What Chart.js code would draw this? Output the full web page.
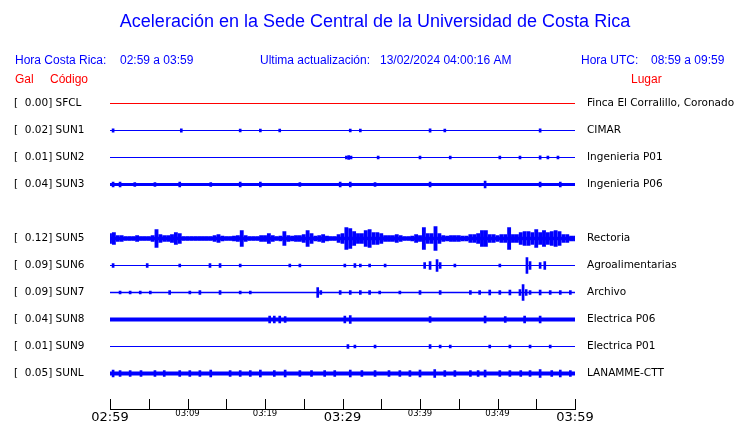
<!DOCTYPE html>
<html>
<head>
<meta charset="utf-8">
<script src="https://cdn.jsdelivr.net/npm/chart.js@4.4.1/dist/chart.umd.min.js"></script>
<style>
  html, body { margin: 0; padding: 0; background: #fff; }
  #wrap { width: 740px; height: 423px; }
</style>
</head>
<body>
<div id="wrap"><canvas id="sismo" width="740" height="423"></canvas></div>
<script>
'use strict';
// one entry per row, the SUN4 row is empty in the picture
const codes = ['SFCL', 'SUN1', 'SUN2', 'SUN3', null, 'SUN5', 'SUN6', 'SUN7', 'SUN8', 'SUN9', 'SUNL'];
const places = ['Finca El Corralillo, Coronado', 'CIMAR', 'Ingenieria P01', 'Ingenieria P06', null,
  'Rectoria', 'Agroalimentarias', 'Archivo', 'Electrica P06', 'Electrica P01', 'LANAMME-CTT'];
const pga = [0.00, 0.02, 0.01, 0.04, null, 0.12, 0.09, 0.09, 0.04, 0.01, 0.05];
// half height of the background noise band of each trace
const noise = [0.5, 0.5, 0.5, 1.5, null, 1.7, 0.5, 0.7, 2, 0.5, 2];
const timeLabels = ['02:59', '03:09', '03:19', '03:29', '03:39', '03:49', '03:59'];

// peaks: [minutes after 02:59, half height]
const spikesSFCL = [];
const spikesSUN1 = [[0.4, 1.7], [9.2, 1.7], [16.8, 1.5], [19.4, 1.5], [21.9, 1.5], [31.0, 1.5], [32.3, 1.5], [41.3, 1.7], [43.2, 1.5], [55.5, 1.7]];
const spikesSUN2 = [[30.5, 1.5], [30.8, 2], [31.1, 1.5], [34.6, 1.5], [40.0, 1.5], [43.9, 1.5], [50.3, 1.5], [52.9, 1.5], [55.5, 1.7], [56.5, 1.5], [57.8, 1.5]];
const spikesSUN3 = [[0.4, 2.5], [1.3, 2.5], [3.2, 2], [5.8, 2], [9.0, 2.5], [13.0, 2], [16.8, 2.5], [19.4, 2.5], [24.5, 2], [29.7, 2.5],
  [31.0, 2.5], [34.2, 2], [41.3, 2.5], [48.4, 3.5], [55.5, 2.5], [58.1, 2.5]];
// envelope of the Rectoria trace, one value every half minute
const envSUN5 = [5, 6, 3, 3, 2, 2, 2, 3, 2, 2, 2, 3, 9, 4, 3, 3, 4, 6, 5, 2,
  2, 2, 2, 2, 2, 2, 2, 3, 4, 2.5, 2, 2, 2.5, 3, 8, 3, 2, 2, 2, 3,
  3, 5, 3, 2, 2.5, 7, 3, 2.5, 3, 3, 4, 8, 5, 2.5, 3, 4, 2.5, 2, 2, 4,
  5, 11, 10, 7, 5, 5, 8, 9, 6, 6, 5, 3, 3, 3, 4, 3, 2, 2, 2.5, 4,
  3, 11, 5, 5, 12, 5, 3, 2.5, 3, 3, 3, 2.5, 2.5, 4, 4, 5, 8, 8, 4, 4,
  3, 4, 4, 11, 4, 4, 6, 7, 7, 6, 9, 6, 8, 6, 7, 8, 7, 4, 4, 2.5, 2.5];
const spikesSUN5 = envSUN5.map((a, k) => [k * 0.5, a]);
const spikesSUN6 = [[0.4, 2], [4.8, 2], [9.0, 1.5], [12.9, 2], [14.2, 2], [16.8, 1.5], [23.2, 1.5], [24.5, 1.5], [30.3, 1.5],
  [31.6, 2], [32.3, 1.5], [33.5, 1.5], [35.5, 1.5], [40.6, 3], [41.3, 4], [42.2, 6], [42.6, 3], [44.5, 1.5], [50.3, 1.5],
  [53.8, 8], [54.2, 4], [55.5, 3], [56.1, 4]];
const spikesSUN7 = [[1.3, 1.5], [2.6, 1.5], [3.9, 1.5], [5.2, 1.5], [7.7, 2], [10.3, 1.5], [11.6, 2], [14.2, 2], [16.8, 1.5],
  [18.1, 1.5], [26.8, 5], [27.2, 2], [29.7, 2], [31.0, 2], [32.3, 2], [33.5, 2], [34.8, 1.5], [37.4, 1.5], [40.0, 2], [42.6, 2],
  [46.5, 2], [47.7, 2], [49.0, 2.5], [50.3, 2], [51.6, 2.5], [52.9, 3], [53.3, 8], [53.7, 3], [54.2, 2], [55.5, 2.5], [56.8, 2],
  [58.1, 2], [59.4, 2]];
const spikesSUN8 = [[20.6, 3.5], [21.2, 3.5], [21.9, 3.5], [22.6, 3], [30.3, 3.5], [31.0, 4], [41.3, 3], [48.4, 3.5], [51.0, 3],
  [53.5, 3.5], [55.5, 3.5]];
const spikesSUN9 = [[30.7, 2], [31.6, 1.5], [34.2, 1.5], [41.3, 2], [42.6, 1.5], [43.9, 1.5], [49.0, 1.5], [51.6, 1.5], [54.2, 1.5], [56.8, 1.5]];
const spikesSUNL = [[0.4, 3.5], [1.3, 3], [2.6, 3], [4.0, 3], [5.8, 3], [7.0, 3], [9.0, 3], [10.3, 3], [11.6, 3], [13.0, 3.5],
  [15.5, 3], [16.8, 3], [18.1, 3], [19.4, 3.5], [21.2, 3], [22.6, 3.5], [24.5, 3], [26.0, 3], [27.7, 3], [29.0, 3], [31.0, 3.5],
  [32.5, 3], [34.2, 3], [36.0, 3], [37.4, 3], [38.7, 3], [40.0, 3.5], [41.9, 4], [43.2, 3], [44.5, 3], [46.5, 3], [47.5, 3],
  [48.4, 3.5], [50.3, 3], [51.6, 3], [53.0, 3], [54.2, 3], [55.5, 4], [57.0, 3], [58.1, 3.5], [59.4, 3]];
const spikes = [spikesSFCL, spikesSUN1, spikesSUN2, spikesSUN3, null, spikesSUN5, spikesSUN6, spikesSUN7, spikesSUN8, spikesSUN9, spikesSUNL];

const ROW = 27;          // y units between traces (1 unit = 1 px)
const BLUE = '#0000ff';
const RED = '#ff0000';
const LABEL_FONT = 'DejaVu Sans';
const HEAD_FONT = 'Liberation Sans';

const datasets = [];
codes.forEach((code, i) => {
  if (!code) return;
  const off = i * ROW;
  const color = i === 0 ? RED : BLUE;
  datasets.push({
    type: 'line',
    data: [{x: 0, y: off}, {x: 60, y: off}],
    borderColor: color,
    borderWidth: Math.max(1, noise[i] * 2),
    pointRadius: 0,
    borderCapStyle: 'butt'
  });
  datasets.push({
    type: 'bar',
    data: spikes[i].map(([m, a]) => ({x: m, y: [off - a, off + a]})),
    backgroundColor: color,
    borderWidth: 0,
    barThickness: code === 'SUN5' ? 3.2 : 2,
    grouped: false
  });
});

const rowValues = codes.map((c, i) => c ? i * ROW : null).filter(v => v !== null);
const rowOf = v => Math.round(v / ROW);

const header = {
  id: 'header',
  afterDraw(chart) {
    const {ctx, scales: {x}, chartArea} = chart;
    ctx.save();
    // upward tick marks on the time axis
    ctx.strokeStyle = '#000';
    ctx.lineWidth = 1;
    x.ticks.forEach(t => {
      const px = Math.round(x.getPixelForValue(t.value)) + 0.5;
      ctx.beginPath();
      ctx.moveTo(px, chartArea.bottom - 10);
      ctx.lineTo(px, chartArea.bottom);
      ctx.stroke();
    });
    ctx.textBaseline = 'middle';
    ctx.fillStyle = BLUE;
    ctx.font = '18px "' + HEAD_FONT + '"';
    ctx.textAlign = 'center';
    ctx.fillText('Aceleración en la Sede Central de la Universidad de Costa Rica', 375, 22);
    ctx.font = '12px "' + HEAD_FONT + '"';
    ctx.textAlign = 'left';
    ctx.fillText('Hora Costa Rica:', 15, 61);
    ctx.fillText('02:59 a 03:59', 120, 61);
    ctx.fillText('Ultima actualización:', 260, 61);
    ctx.fillText('13/02/2024 04:00:16 AM', 380, 61);
    ctx.fillText('Hora UTC:', 581, 61);
    ctx.fillText('08:59 a 09:59', 651, 61);
    ctx.fillStyle = RED;
    ctx.fillText('Gal', 15, 80);
    ctx.fillText('Código', 50, 80);
    ctx.fillText('Lugar', 631, 80);
    ctx.restore();
  }
};

new Chart(document.getElementById('sismo'), {
  type: 'bar',
  data: {datasets: datasets},
  options: {
    responsive: false,
    devicePixelRatio: 1,
    animation: false,
    events: [],
    layout: {padding: {top: 89.5, left: 14, right: 0, bottom: 0}},
    plugins: {legend: {display: false}, tooltip: {enabled: false}},
    scales: {
      x: {
        type: 'linear',
        min: 0,
        max: 60,
        offset: false,
        grid: {display: false, drawTicks: false, offset: false},
        border: {display: true, color: '#000', width: 1},
        afterFit: s => { s.height = 14; },
        ticks: {
          stepSize: 5,
          autoSkip: false,
          maxRotation: 0,
          padding: 3,
          color: '#000',
          callback: v => v % 10 === 0 ? timeLabels[v / 10] : '',
          font: c => (c.tick && c.tick.value % 30 === 0)
            ? {family: LABEL_FONT, size: 13, lineHeight: 0.85}
            : {family: LABEL_FONT, size: 8.5, lineHeight: 0.5}
        }
      },
      y: {
        type: 'linear',
        position: 'left',
        reverse: true,
        min: -14,
        max: 305.5,
        grid: {display: false, drawTicks: false},
        border: {display: false},
        afterFit: s => { s.width = 96; },
        afterBuildTicks: s => { s.ticks = rowValues.map(v => ({value: v})); },
        ticks: {
          crossAlign: 'far',
          padding: 0,
          color: '#000',
          font: {family: LABEL_FONT, size: 10.5},
          callback: v => '[  ' + pga[rowOf(v)].toFixed(2) + '] ' + codes[rowOf(v)]
        }
      },
      y2: {
        type: 'linear',
        position: 'right',
        reverse: true,
        min: -14,
        max: 305.5,
        grid: {display: false, drawTicks: true, tickLength: 12},
        border: {display: false},
        afterFit: s => { s.width = 165; },
        afterBuildTicks: s => { s.ticks = rowValues.map(v => ({value: v})); },
        ticks: {
          padding: 0,
          color: '#000',
          font: {family: LABEL_FONT, size: 10.5},
          callback: v => places[rowOf(v)]
        }
      }
    }
  },
  plugins: [header]
});
</script>
</body>
</html>
